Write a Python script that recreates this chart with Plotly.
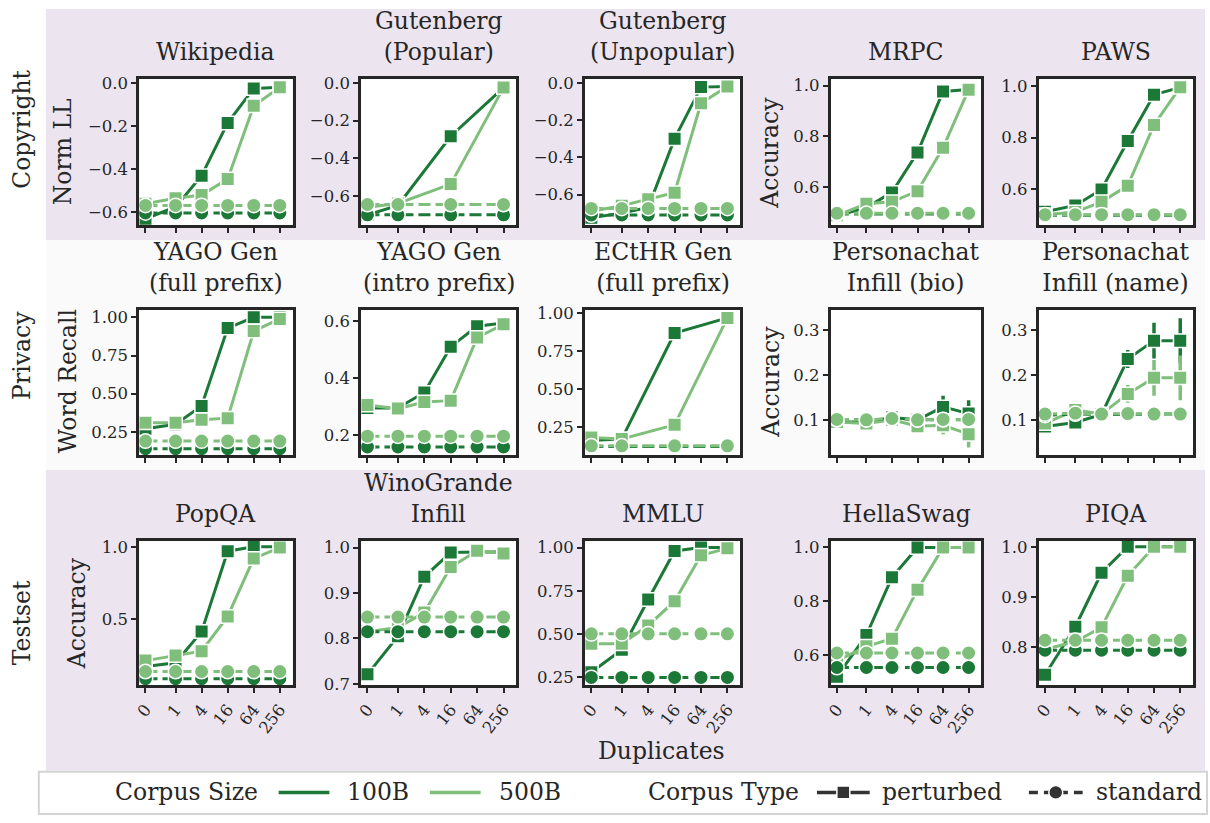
import math
import plotly.graph_objects as go

W, H = 1210, 823
FONT = "DejaVu Serif"
INK = "#262626"
DARK = "#1b7837"
LIGHT = "#7fbf7b"
BIG = 23.5

DUPLICATES = [0, 1, 4, 16, 64, 256]
DUP_LABELS = ["0", "1", "4", "16", "64", "256"]

TITLES = [
    "Wikipedia", "Gutenberg<br>(Popular)", "Gutenberg<br>(Unpopular)", "MRPC", "PAWS",
    "YAGO Gen<br>(full prefix)", "YAGO Gen<br>(intro prefix)", "ECtHR Gen<br>(full prefix)",
    "Personachat<br>Infill (bio)", "Personachat<br>Infill (name)",
    "PopQA", "WinoGrande<br>Infill", "MMLU", "HellaSwag", "PIQA",
]
ROW_LABELS = ["Copyright", "Privacy", "Testset"]

# ---- values: perturbed / standard, 100B / 500B (None = not evaluated) ----
wiki_p100 = [-0.63, -0.575, -0.43, -0.185, -0.025, -0.02]
wiki_p500 = [-0.56, -0.535, -0.52, -0.445, -0.105, -0.02]
wiki_s100 = [-0.603, -0.603, -0.603, -0.603, -0.603, -0.603]
wiki_s500 = [-0.568, -0.568, -0.568, -0.568, -0.568, -0.568]

gpop_p100 = [-0.70, -0.65, None, -0.283, None, -0.025]
gpop_p500 = [-0.66, -0.64, None, -0.537, None, -0.025]
gpop_s100 = [-0.70, -0.70, None, -0.70, None, -0.70]
gpop_s500 = [-0.645, -0.645, None, -0.645, None, -0.645]

gunp_p100 = [-0.725, -0.70, -0.67, -0.30, -0.023, -0.02]
gunp_p500 = [-0.69, -0.66, -0.625, -0.59, -0.11, -0.02]
gunp_s100 = [-0.71, -0.71, -0.71, -0.71, -0.71, -0.71]
gunp_s500 = [-0.675, -0.675, -0.675, -0.675, -0.675, -0.675]

mrpc_p100 = [0.488, 0.52, 0.58, 0.737, 0.977, 0.985]
mrpc_p500 = [0.49, 0.535, 0.543, 0.585, 0.756, 0.984]
mrpc_s100 = [0.495, 0.495, 0.495, 0.495, 0.495, 0.495]
mrpc_s500 = [0.498, 0.498, 0.498, 0.498, 0.498, 0.498]
mrpc_e100 = [0, 0, 0.005, 0.015, 0.01, 0]
mrpc_e500 = [0, 0.005, 0.008, 0.02, 0.025, 0.005]

paws_p100 = [0.511, 0.536, 0.598, 0.787, 0.967, 0.995]
paws_p500 = [0.50, 0.51, 0.55, 0.613, 0.849, 0.996]
paws_s100 = [0.498, 0.498, 0.498, 0.498, 0.498, 0.498]
paws_s500 = [0.50, 0.50, 0.50, 0.50, 0.50, 0.50]
paws_e500 = [0, 0, 0, 0.008, 0.015, 0]

yfull_p100 = [0.27, 0.30, 0.42, 0.93, 1.0, 1.0]
yfull_p500 = [0.31, 0.31, 0.33, 0.34, 0.91, 0.99]
yfull_s100 = [0.14, 0.14, 0.14, 0.14, 0.14, 0.14]
yfull_s500 = [0.19, 0.19, 0.19, 0.19, 0.19, 0.19]

yintro_p100 = [0.295, 0.295, 0.35, 0.511, 0.583, 0.594]
yintro_p500 = [0.306, 0.293, 0.316, 0.321, 0.543, 0.59]
yintro_s100 = [0.158, 0.158, 0.158, 0.158, 0.158, 0.158]
yintro_s500 = [0.196, 0.196, 0.196, 0.196, 0.196, 0.196]
yintro_e100 = [0, 0, 0, 0, 0, 0.015]
yintro_e500 = [0, 0, 0, 0, 0.01, 0.02]

ecthr_p100 = [0.16, 0.17, None, 0.87, None, 0.97]
ecthr_p500 = [0.18, 0.17, None, 0.263, None, 0.97]
ecthr_s100 = [0.12, 0.12, None, 0.12, None, 0.12]
ecthr_s500 = [0.124, 0.124, None, 0.124, None, 0.124]

pbio_p100 = [0.095, 0.095, 0.105, 0.10, 0.129, 0.114]
pbio_p500 = [0.095, 0.092, 0.10, 0.086, 0.088, 0.068]
pbio_s100 = [0.10, 0.10, 0.102, 0.10, 0.10, 0.10]
pbio_s500 = [0.101, 0.10, 0.103, 0.10, 0.101, 0.101]
pbio_e100 = [0.004, 0.004, 0.008, 0.008, 0.025, 0.03]
pbio_e500 = [0.004, 0.005, 0.008, 0.012, 0.02, 0.03]

pname_p100 = [0.085, 0.094, 0.112, 0.236, 0.277, 0.277]
pname_p500 = [0.092, 0.122, 0.113, 0.158, 0.194, 0.194]
pname_s100 = [0.11, 0.113, 0.112, 0.113, 0.113, 0.113]
pname_s500 = [0.113, 0.115, 0.113, 0.114, 0.113, 0.113]
pname_e100 = [0.008, 0.008, 0.006, 0.02, 0.04, 0.05]
pname_e500 = [0.008, 0.015, 0.006, 0.02, 0.04, 0.05]

popqa_p100 = [0.175, 0.20, 0.415, 0.97, 1.0, 1.0]
popqa_p500 = [0.215, 0.25, 0.28, 0.52, 0.92, 0.995]
popqa_s100 = [0.09, 0.09, 0.09, 0.09, 0.09, 0.09]
popqa_s500 = [0.14, 0.14, 0.14, 0.14, 0.14, 0.14]

wino_p100 = [0.721, 0.805, 0.936, 0.989, 0.99, 0.99]
wino_p500 = [0.815, 0.824, 0.857, 0.957, 0.993, 0.987]
wino_s100 = [0.815, 0.815, 0.815, 0.815, 0.815, 0.815]
wino_s500 = [0.847, 0.847, 0.847, 0.847, 0.847, 0.847]

mmlu_p100 = [0.28, 0.41, 0.70, 0.98, 1.0, 1.0]
mmlu_p500 = [0.445, 0.445, 0.55, 0.69, 0.955, 0.995]
mmlu_s100 = [0.25, 0.25, 0.25, 0.25, 0.25, 0.25]
mmlu_s500 = [0.502, 0.502, 0.502, 0.502, 0.502, 0.502]

hella_p100 = [0.519, 0.674, 0.889, 1.0, 1.0, 1.0]
hella_p500 = [0.578, 0.632, 0.66, 0.843, 1.0, 1.0]
hella_s100 = [0.553, 0.553, 0.553, 0.553, 0.553, 0.553]
hella_s500 = [0.607, 0.607, 0.607, 0.607, 0.607, 0.607]

piqa_p100 = [0.744, 0.84, 0.948, 1.0, 1.0, 1.0]
piqa_p500 = [0.795, 0.81, 0.839, 0.942, 1.0, 1.0]
piqa_s100 = [0.793, 0.793, 0.793, 0.793, 0.793, 0.793]
piqa_s500 = [0.813, 0.813, 0.813, 0.813, 0.813, 0.813]

# ---- y tick labels and y ranges per panel ----
YTICKS = [
    [0.0, -0.2, -0.4, -0.6], [0.0, -0.2, -0.4, -0.6], [0.0, -0.2, -0.4, -0.6], [1.0, 0.8, 0.6], [1.0, 0.8, 0.6],
    [1.0, 0.75, 0.5, 0.25], [0.6, 0.4, 0.2], [1.0, 0.75, 0.5, 0.25], [0.3, 0.2, 0.1], [0.3, 0.2, 0.1],
    [1.0, 0.5], [1.0, 0.9, 0.8, 0.7], [1.0, 0.75, 0.5, 0.25], [1.0, 0.8, 0.6], [1.0, 0.9, 0.8],
]
YTICK_TEXT = [
    ["0.0", "−0.2", "−0.4", "−0.6"], ["0.0", "−0.2", "−0.4", "−0.6"], ["0.0", "−0.2", "−0.4", "−0.6"],
    ["1.0", "0.8", "0.6"], ["1.0", "0.8", "0.6"],
    ["1.00", "0.75", "0.50", "0.25"], ["0.6", "0.4", "0.2"], ["1.00", "0.75", "0.50", "0.25"],
    ["0.3", "0.2", "0.1"], ["0.3", "0.2", "0.1"],
    ["1.0", "0.5"], ["1.0", "0.9", "0.8", "0.7"], ["1.00", "0.75", "0.50", "0.25"], ["1.0", "0.8", "0.6"],
    ["1.0", "0.9", "0.8"],
]
YRANGES = [
    [-0.66, 0.02], [-0.755, 0.022], [-0.765, 0.022], [0.451, 1.027], [0.459, 1.029],
    [0.097, 1.05], [0.129, 0.641], [0.062, 1.024], [0.021, 0.346], [0.021, 0.346],
    [0.045, 1.042], [0.697, 1.015], [0.205, 1.039], [0.487, 1.025], [0.723, 1.012],
]

PANELS = [
    (wiki_p100, wiki_p500, wiki_s100, wiki_s500, None, None),
    (gpop_p100, gpop_p500, gpop_s100, gpop_s500, None, None),
    (gunp_p100, gunp_p500, gunp_s100, gunp_s500, None, None),
    (mrpc_p100, mrpc_p500, mrpc_s100, mrpc_s500, mrpc_e100, mrpc_e500),
    (paws_p100, paws_p500, paws_s100, paws_s500, None, paws_e500),
    (yfull_p100, yfull_p500, yfull_s100, yfull_s500, None, None),
    (yintro_p100, yintro_p500, yintro_s100, yintro_s500, yintro_e100, yintro_e500),
    (ecthr_p100, ecthr_p500, ecthr_s100, ecthr_s500, None, None),
    (pbio_p100, pbio_p500, pbio_s100, pbio_s500, pbio_e100, pbio_e500),
    (pname_p100, pname_p500, pname_s100, pname_s500, pname_e100, pname_e500),
    (popqa_p100, popqa_p500, popqa_s100, popqa_s500, None, None),
    (wino_p100, wino_p500, wino_s100, wino_s500, None, None),
    (mmlu_p100, mmlu_p500, mmlu_s100, mmlu_s500, None, None),
    (hella_p100, hella_p500, hella_s100, hella_s500, None, None),
    (piqa_p100, piqa_p500, piqa_s100, piqa_s500, None, None),
]


def dup_scale(d):
    # axis scale: log base 4 for d >= 1, zero placed just left of 1
    return math.log(d, 4) if d > 0 else -1.154


X_POS = [dup_scale(d) for d in DUPLICATES]
X_RANGE = [-1.39, 4.49]

# ---- layout geometry (pixels) ----
COL_X = [(134, 288), (357, 513), (582, 738), (829, 980), (1038, 1193)]
ROW_Y = [(74, 223), (309, 457), (544, 691)]


def px(x):
    return x / W


def py(y):
    return 1 - y / H


fig = go.Figure()
layout = dict(
    width=W, height=H, margin=dict(l=0, r=0, t=0, b=0),
    paper_bgcolor="white", plot_bgcolor="white", showlegend=False,
    font=dict(family=FONT, color=INK, size=16),
)
shapes = []
annotations = []

# row background bands
shapes.append(dict(type="rect", xref="paper", yref="paper", x0=px(40), x1=px(1205), y0=py(3), y1=py(238),
                   fillcolor="#ece5f0", line=dict(width=0), layer="below"))
shapes.append(dict(type="rect", xref="paper", yref="paper", x0=px(40), x1=px(1205), y0=py(238), y1=py(472),
                   fillcolor="#fafafa", line=dict(width=0), layer="below"))
shapes.append(dict(type="rect", xref="paper", yref="paper", x0=px(40), x1=px(1205), y0=py(472), y1=py(778),
                   fillcolor="#ece5f0", line=dict(width=0), layer="below"))


def add_series(xa, ya, vals, errs, color, symbol, dash):
    xs, ys, es = [], [], []
    for i, v in enumerate(vals):
        if v is None:
            continue
        xs.append(X_POS[i])
        ys.append(v)
        es.append(errs[i] if errs else 0)
    tr = go.Scatter(
        x=xs, y=ys, xaxis=xa, yaxis=ya, mode="lines+markers",
        line=dict(color=color, width=3, dash=dash),
        marker=dict(symbol=symbol, size=13.5 if symbol == "square" else 14.5, color=color,
                    line=dict(color="white", width=1.5)),
        hoverinfo="skip",
    )
    if errs:
        tr.error_y = dict(type="data", array=es, visible=True, thickness=3.5, width=0, color=color)
    fig.add_trace(tr)


for i, (p100, p500, s100, s500, e100, e500) in enumerate(PANELS):
    r, c = divmod(i, 5)
    n = "" if i == 0 else str(i + 1)
    xa, ya = "x" + n, "y" + n
    x0, x1 = COL_X[c]
    y0, y1 = ROW_Y[r]
    layout["xaxis" + n] = dict(
        domain=[px(x0), px(x1)], anchor=ya, range=X_RANGE,
        tickmode="array", tickvals=X_POS, ticktext=DUP_LABELS,
        showticklabels=(r == 2), tickangle=-52, tickfont=dict(size=16.5, family=FONT, color=INK),
        ticks="outside", ticklen=5, tickwidth=2.2, tickcolor=INK,
        showline=True, linewidth=3, linecolor=INK, mirror=True,
        showgrid=False, zeroline=False,
    )
    layout["yaxis" + n] = dict(
        domain=[py(y1), py(y0)], anchor=xa, range=YRANGES[i],
        tickmode="array", tickvals=YTICKS[i], ticktext=YTICK_TEXT[i],
        tickfont=dict(size=16.5, family=FONT, color=INK),
        ticks="outside", ticklen=5, tickwidth=2.2, tickcolor=INK,
        showline=True, linewidth=3, linecolor=INK, mirror=True,
        showgrid=False, zeroline=False,
    )
    shapes.append(dict(type="rect", xref=xa + " domain", yref=ya + " domain", x0=0, x1=1, y0=0, y1=1,
                       fillcolor="white", line=dict(width=0), layer="below"))
    add_series(xa, ya, p100, e100, DARK, "square", "solid")
    add_series(xa, ya, p500, e500, LIGHT, "square", "solid")
    add_series(xa, ya, s100, None, DARK, "circle", "12px,5px")
    add_series(xa, ya, s500, None, LIGHT, "circle", "12px,5px")
    annotations.append(dict(
        text=TITLES[i], xref="paper", yref="paper", x=px((x0 + x1) / 2), y=py(y0),
        xanchor="center", yanchor="bottom", yshift=11, showarrow=False,
        font=dict(size=BIG, family=FONT, color=INK),
    ))

# y-axis titles
for txt, x, y in [("Norm LL", 58, 148), ("Accuracy", 768, 149), ("Word Recall", 62, 382),
                  ("Accuracy", 768, 382), ("Accuracy", 72, 618)]:
    annotations.append(dict(text=txt, xref="paper", yref="paper", x=px(x), y=py(y), textangle=-90,
                            xanchor="center", yanchor="middle", showarrow=False,
                            font=dict(size=BIG, family=FONT, color=INK)))
# row labels
for txt, y in zip(ROW_LABELS, [125, 355, 627]):
    annotations.append(dict(text=txt, xref="paper", yref="paper", x=px(16), y=py(y), textangle=-90,
                            xanchor="center", yanchor="middle", showarrow=False,
                            font=dict(size=BIG, family=FONT, color=INK)))
# shared x title
annotations.append(dict(text="Duplicates", xref="paper", yref="paper", x=px(659), y=py(758),
                        xanchor="center", yanchor="middle", showarrow=False,
                        font=dict(size=BIG, family=FONT, color=INK)))

# ---- legend (drawn manually) ----
LEG_Y = 800
shapes.append(dict(type="rect", xref="paper", yref="paper", x0=px(33), x1=px(1207), y0=py(822), y1=py(779),
                   fillcolor="white", line=dict(color="#d4d4d4", width=2)))
for txt, x in [("Corpus Size", 108), ("100B", 341), ("500B", 493), ("Corpus Type", 643),
               ("perturbed", 878), ("standard", 1093)]:
    annotations.append(dict(text=txt, xref="paper", yref="paper", x=px(x), y=py(LEG_Y),
                            xanchor="left", yanchor="middle", showarrow=False,
                            font=dict(size=BIG, family=FONT, color=INK)))
shapes.append(dict(type="line", xref="paper", yref="paper", x0=px(274), x1=px(325), y0=py(LEG_Y), y1=py(LEG_Y),
                   line=dict(color=DARK, width=3.5)))
shapes.append(dict(type="line", xref="paper", yref="paper", x0=px(426), x1=px(477), y0=py(LEG_Y), y1=py(LEG_Y),
                   line=dict(color=LIGHT, width=3.5)))
shapes.append(dict(type="line", xref="paper", yref="paper", x0=px(815), x1=px(868), y0=py(LEG_Y), y1=py(LEG_Y),
                   line=dict(color="#333333", width=3.5)))
shapes.append(dict(type="rect", xref="paper", yref="paper", x0=px(835), x1=px(848), y0=py(LEG_Y + 6.5),
                   y1=py(LEG_Y - 6.5), fillcolor="#333333", line=dict(color="white", width=1.5)))
shapes.append(dict(type="line", xref="paper", yref="paper", x0=px(1028), x1=px(1082), y0=py(LEG_Y), y1=py(LEG_Y),
                   line=dict(color="#333333", width=3.5, dash="9px,6px")))
shapes.append(dict(type="circle", xref="paper", yref="paper", x0=px(1048), x1=px(1062), y0=py(LEG_Y + 7),
                   y1=py(LEG_Y - 7), fillcolor="#333333", line=dict(color="white", width=1.5)))

layout["shapes"] = shapes
layout["annotations"] = annotations
fig.update_layout(**layout)
fig.write_html("out.html")
